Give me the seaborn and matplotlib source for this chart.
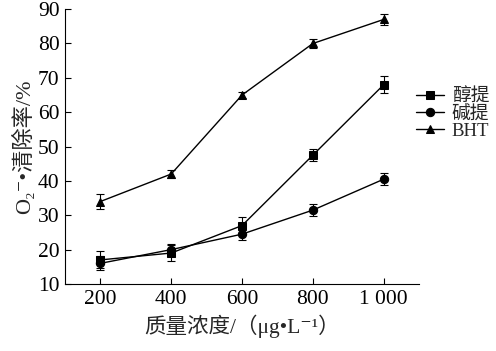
import numpy as np
import pandas as pd
import matplotlib
matplotlib.use("Agg")
import matplotlib.pyplot as plt
import seaborn as sns

conc = [200, 400, 600, 800, 1000]
xtick_labels = ["200", "400", "600", "800", "1 000"]
series_names = ["醇提", "碱提", "BHT"]
alcohol = [17.0, 19.0, 27.0, 47.5, 68.0]
alcohol_err = [2.5, 2.2, 2.5, 1.8, 2.5]
alkali = [16.0, 20.0, 24.5, 31.5, 40.5]
alkali_err = [2.0, 1.5, 1.8, 1.8, 1.8]
bht = [34.0, 42.0, 65.0, 80.0, 87.0]
bht_err = [2.3, 1.3, 1.0, 1.2, 1.5]

sns.set_style("ticks")
fam = ["Liberation Serif", "Noto Sans CJK SC", "DejaVu Serif"]
plt.rcParams["font.family"] = fam

df = pd.DataFrame({
    "conc": conc * 3,
    "val": alcohol + alkali + bht,
    "err": alcohol_err + alkali_err + bht_err,
    "series": [series_names[0]] * 5 + [series_names[1]] * 5 + [series_names[2]] * 5,
})

W, H = 496, 351
fig = plt.figure(figsize=(W / 100, H / 100), dpi=100)
ax = fig.add_axes([0.131, 0.191, 0.714, 0.783])

markers = {"醇提": "s", "碱提": "o", "BHT": "^"}
sns.lineplot(data=df, x="conc", y="val", hue="series", style="series",
             markers=markers, dashes=False, palette=["black"] * 3,
             markersize=6, linewidth=1.0, ax=ax, legend=True,
             markeredgecolor="black")
for name in series_names:
    sub = df[df["series"] == name]
    ax.errorbar(sub["conc"], sub["val"], yerr=sub["err"], fmt="none",
                ecolor="black", elinewidth=0.8, capsize=3, capthick=0.8)

ax.set_xlim(100, 1100)
ax.set_ylim(10, 90)
ax.set_xticks(conc)
ax.set_xticklabels(xtick_labels)
ax.set_yticks(range(10, 91, 10))
ax.tick_params(direction="in", length=4, width=0.8, labelsize=15.5, colors="black", pad=4)
for s in ["top", "right"]:
    ax.spines[s].set_visible(False)
for s in ["left", "bottom"]:
    ax.spines[s].set_linewidth(0.8)
    ax.spines[s].set_color("black")

ax.set_xlabel("质量浓度/（μg•L⁻¹）", fontsize=15.5, labelpad=4)
ax.set_ylabel("O₂⁻•清除率/%", fontsize=16, labelpad=2)

handles, labels = ax.get_legend_handles_labels()
ax.get_legend().remove()
row_y = [97, 114, 131]
for h, l, y in zip(handles, labels, row_y):
    lg = fig.legend([h], [l], loc="center left",
                    bbox_to_anchor=(416 / W, 1 - y / H), frameon=False,
                    fontsize=13.5, handlelength=1.5, handletextpad=0.4,
                    borderaxespad=0, borderpad=0)

fig.savefig("out.png", dpi=100)
